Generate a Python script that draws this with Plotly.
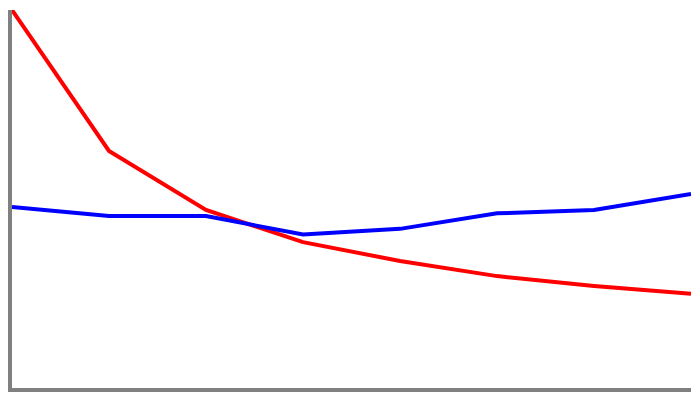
import plotly.graph_objects as go

steps = [0, 1, 2, 3, 4, 5, 6, 7]
red_values = [100, 62.7, 47.1, 38.6, 33.6, 29.6, 27.0, 24.9]
blue_values = [47.9, 45.5, 45.5, 40.6, 42.1, 46.2, 47.1, 51.3]

fig = go.Figure()
fig.add_trace(go.Scatter(x=steps, y=red_values, mode='lines',
                         line=dict(color='#ff0000', width=4)))
fig.add_trace(go.Scatter(x=steps, y=blue_values, mode='lines',
                         line=dict(color='#0000ff', width=4)))

fig.update_layout(
    width=700, height=400,
    margin=dict(l=4, r=17, t=2, b=20),
    paper_bgcolor='white', plot_bgcolor='white',
    showlegend=False,
)
fig.update_xaxes(range=[0, 7], showline=True, linecolor='#808080', linewidth=4,
                 showgrid=False, zeroline=False, showticklabels=False, ticks='')
fig.update_yaxes(range=[0, 100], showline=True, linecolor='#808080', linewidth=4,
                 showgrid=False, zeroline=False, showticklabels=False, ticks='')

fig.write_html("out.html")
